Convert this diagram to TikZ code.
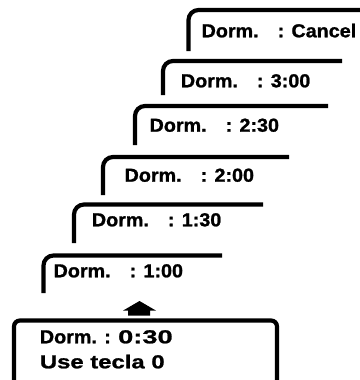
\documentclass[tikz,border=0pt]{standalone}
\usepackage{fontspec}
\newfontfamily\lblfont{Liberation Sans}[FakeStretch=1.05,FakeBold=1.2]
\newfontfamily\widefont{Liberation Sans}[FakeStretch=1.27,FakeBold=1.2]
\newfontfamily\digitfont{Liberation Sans}[FakeStretch=1.45,FakeBold=1.2]
\begin{document}
\begin{tikzpicture}[x=1pt,y=-1pt,
  tabline/.style={line width=4.2pt, rounded corners=10pt},
  boxline/.style={line width=4.2pt, rounded corners=6pt},
  lbl/.style={font=\lblfont\bfseries\fontsize{18.8}{22}\selectfont, anchor=base west, inner sep=0pt, outer sep=0pt}]
\useasboundingbox (0,0) rectangle (359,380);
% tabs
\draw[tabline] (188.5,51) -- (188.5,10) -- (362,10);
\draw[tabline] (163,95) -- (163,61) -- (342,61);
\draw[tabline] (135,145) -- (135,106) -- (328,106);
\draw[tabline] (103,195) -- (103,157) -- (289,157);
\draw[tabline] (74,243) -- (74,204.5) -- (263,204.5);
\draw[tabline] (43.5,293) -- (43.5,255.5) -- (222,255.5);
% labels
\newcommand{\tabgap}{\hspace{19pt}}
\node[lbl] (tc) at (201.6,37.3) {Dorm.\tabgap: Cancel};
\node[lbl] (t30) at (180.9,87.3) {Dorm.\tabgap: 3:00};
\node[lbl] (t25) at (149.6,131.7) {Dorm.\tabgap: 2:30};
\node[lbl] (t20) at (124.6,181.7) {Dorm.\tabgap: 2:00};
\node[lbl] (t15) at (91.9,226.3) {Dorm.\tabgap: 1:30};
\node[lbl] (t10) at (53.6,277.3) {Dorm.\tabgap: 1:00};
% arrow
\fill (139.5,301) -- (156,310.6) -- (150,310.6) -- (150,315.5) -- (128,315.5) -- (128,310.6) -- (123,310.6) -- cycle;
% bottom box
\draw[boxline] (14,390) -- (14,320.5) -- (277,320.5) -- (277,390);
\node[lbl] (b1) at (39.9,343.3) {Dorm. : {\digitfont 0:30}};
\node[lbl] (b2) at (39.9,368.3) {\widefont Use tecla 0};
\end{tikzpicture}
\end{document}
